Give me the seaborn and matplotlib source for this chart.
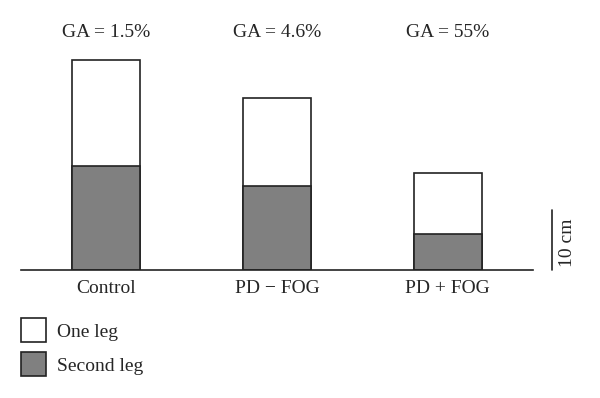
import pandas as pd
import matplotlib
matplotlib.use("Agg")
import matplotlib.pyplot as plt
import seaborn as sns
from matplotlib.patches import Patch

# --- Data (cm) ---
groups = ["Control", "PD \u2212 FOG", "PD + FOG"]
one_leg = [17.5, 14.6, 10.1]      # white part, stacked on top
second_leg = [17.2, 13.9, 5.9]    # gray part
ga_labels = ["GA = 1.5%", "GA = 4.6%", "GA = 55%"]

df = pd.DataFrame({
    "group": groups,
    "second": second_leg,
    "total": [a + b for a, b in zip(one_leg, second_leg)],
})

# --- Style ---
sns.set_style("white")
plt.rcParams["font.family"] = ["Liberation Serif", "DejaVu Serif"]
EDGE = "#222222"
GRAY = "#808080"
FS = 14

fig = plt.figure(figsize=(6, 3.98), dpi=100)
ax = fig.add_axes([21 / 600, 1 - 270 / 398, (533 - 21) / 600, 242 / 398])

# full bar (one leg on top) drawn first, second leg overlaid
sns.barplot(data=df, x="group", y="total", order=groups, color="white",
            edgecolor=EDGE, linewidth=1.2, width=0.4, saturation=1, ax=ax)
sns.barplot(data=df, x="group", y="second", order=groups, color=GRAY,
            edgecolor=EDGE, linewidth=1.2, width=0.4, saturation=1, ax=ax)

ax.set_xlim(-0.5, 2.5)
ax.set_ylim(0, 40)
ax.set_xlabel("")
ax.set_ylabel("")
ax.set_yticks([])
ax.tick_params(axis="x", length=0, pad=7.5, labelsize=FS)
for side in ["top", "left", "right"]:
    ax.spines[side].set_visible(False)
ax.spines["bottom"].set_color(EDGE)
ax.spines["bottom"].set_linewidth(1.2)

# GA labels above each bar
for i, lab in enumerate(ga_labels):
    ax.text(i, 39.3, lab, ha="center", va="center", fontsize=FS)

# 10 cm scale bar
ax.plot([2.611, 2.611], [0, 10], color=EDGE, lw=1.2, clip_on=False)
ax.text(2.70, 4.5, "10 cm", rotation=90, ha="center", va="center",
        fontsize=FS, clip_on=False)

# legend
handles = [Patch(facecolor="white", edgecolor=EDGE, linewidth=1.2, label="One leg"),
           Patch(facecolor=GRAY, edgecolor=EDGE, linewidth=1.2, label="Second leg")]
fig.legend(handles=handles, loc="upper left",
           bbox_to_anchor=(21 / 600, 1 - 318 / 398), frameon=False,
           fontsize=FS, handlelength=1.29, handleheight=1.55,
           handletextpad=0.57, labelspacing=0.5, borderpad=0,
           borderaxespad=0)

fig.savefig("out.png", dpi=100)
